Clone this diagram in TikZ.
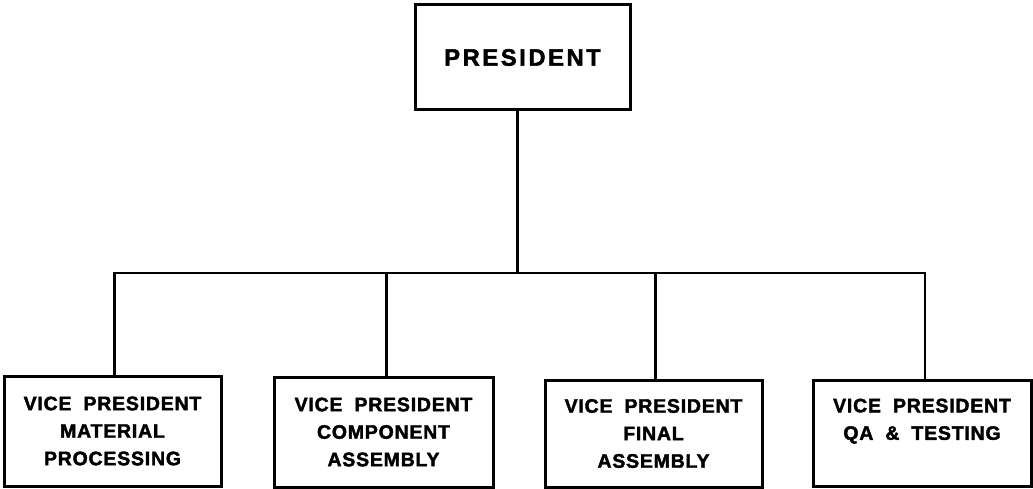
\documentclass[tikz,border=0pt]{standalone}
\usepackage{fontspec}
\setmainfont{Liberation Sans}
\newfontfamily\vpfont{Liberation Sans}[LetterSpace=4,FakeBold=2]
\newfontfamily\presfont{Liberation Sans}[LetterSpace=11,FakeBold=2]
\newcommand\gapsp{\hspace{12pt}}
\begin{document}
\begin{tikzpicture}[x=1pt,y=-1pt,
  box/.style={draw,line width=3pt,inner sep=0pt,align=center,
    font=\vpfont\bfseries\fontsize{19.5}{27.5}\selectfont},
  conn/.style={line width=2.5pt}]
\useasboundingbox (0,0) rectangle (1033,489);
\node[box,minimum width=215pt,minimum height=105pt,
  font=\presfont\bfseries\fontsize{23.7}{28}\selectfont] (p) at (522.5,57.5) {PRESIDENT};
\node[box,minimum width=217pt,minimum height=110pt] (b1) at (112.5,431)
  {VICE\gapsp PRESIDENT\\MATERIAL\\PROCESSING};
\node[box,minimum width=219pt,minimum height=110pt] (b2) at (383.5,432)
  {VICE\gapsp PRESIDENT\\COMPONENT\\ASSEMBLY};
\node[box,minimum width=217pt,minimum height=107pt] (b3) at (653.5,433.5)
  {VICE\gapsp PRESIDENT\\FINAL\\ASSEMBLY};
\node[box,minimum width=218pt,minimum height=106pt] (b4) at (922,433)
  {VICE\gapsp PRESIDENT\\QA\gapsp \&\gapsp TESTING\\\mbox{}};
\coordinate (bus) at (0,273);
\coordinate (t) at ([xshift=-5pt]p.south);
\coordinate (d1) at ([xshift=2pt]b1.north);
\coordinate (d2) at ([xshift=3pt]b2.north);
\coordinate (d3) at ([xshift=2pt]b3.north);
\coordinate (d4) at ([xshift=3pt]b4.north);
\draw[conn] (t) -- (t |- bus);
\draw[conn] (d1) |- (d4 |- bus) -- (d4);
\draw[conn] (d2) -- (d2 |- bus);
\draw[conn] (d3) -- (d3 |- bus);
\end{tikzpicture}
\end{document}
